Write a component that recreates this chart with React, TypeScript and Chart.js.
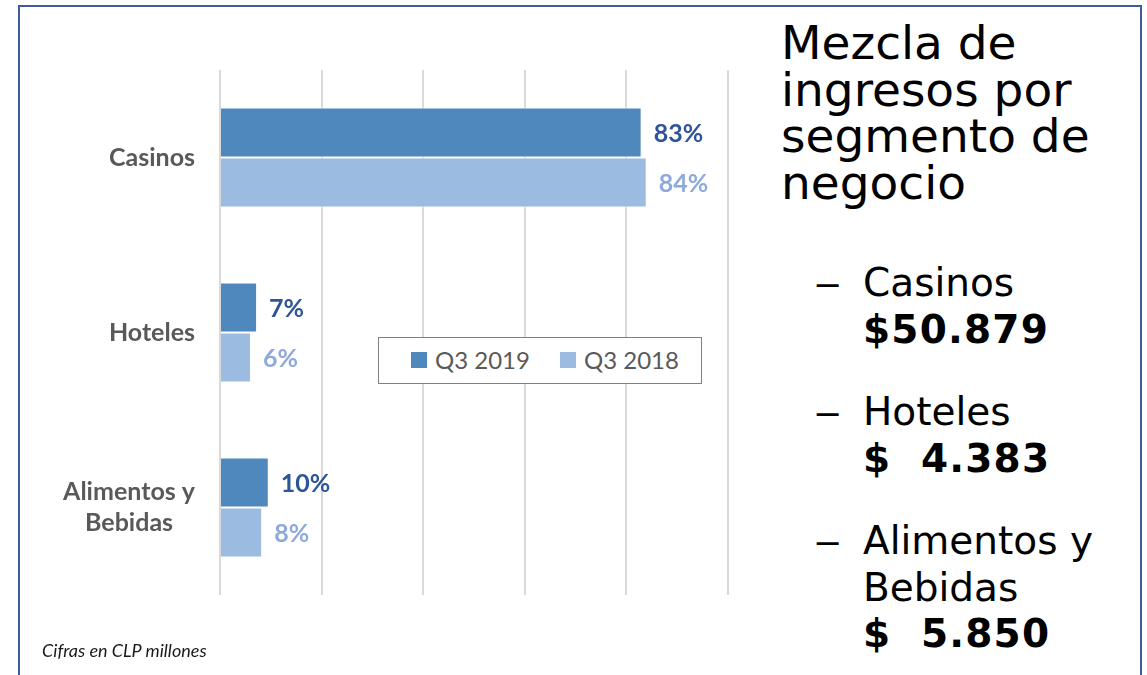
import React, { useEffect, useRef } from "react";
import { Chart, registerables } from "chart.js";

Chart.register(...registerables);

const categories: string[][] = [["Casinos"], ["Hoteles"], ["Alimentos y", "Bebidas"]];
const seriesNames = ["Q3 2019", "Q3 2018"];
const q3_2019 = [83, 7.3, 9.6];
const q3_2018 = [84, 6.1, 8.3];
const xTicks = [0, 20, 40, 60, 80, 100];
const barColors = ["#4F88BD", "#9BBBE1"];
const labelColors = ["#2E5597", "#8EAADB"];

const titleLines = ["Mezcla de", "ingresos por", "segmento de", "negocio"];
const segmentNames: string[][] = [["Casinos"], ["Hoteles"], ["Alimentos y", "Bebidas"]];
const segmentAmounts = ["$50.879", "$\u00a0\u00a04.383", "$\u00a0\u00a05.850"];
const footnote = "Cifras en CLP millones";

const LABEL_FONT = "Lato, 'Liberation Sans', sans-serif";

const valueLabelsPlugin = {
  id: "valueLabels",
  afterDatasetsDraw(chart: any) {
    const ctx = chart.ctx;
    ctx.save();
    ctx.font = `bold 25px ${LABEL_FONT}`;
    ctx.textAlign = "left";
    ctx.textBaseline = "middle";
    chart.data.datasets.forEach((ds: any, di: number) => {
      const meta = chart.getDatasetMeta(di);
      meta.data.forEach((bar: any, i: number) => {
        ctx.fillStyle = labelColors[di];
        ctx.fillText(Math.round(ds.data[i]) + "%", bar.x + 12, bar.y + 1);
      });
    });
    ctx.restore();
  },
};

const categoryLabelsPlugin = {
  id: "categoryLabels",
  afterDraw(chart: any) {
    const ctx = chart.ctx;
    const yScale = chart.scales.y;
    const right = chart.chartArea.left - 25;
    const lh = 31;
    ctx.save();
    ctx.font = `bold 25px ${LABEL_FONT}`;
    ctx.fillStyle = "#595959";
    ctx.textBaseline = "middle";
    ctx.textAlign = "center";
    categories.forEach((lines, i) => {
      const cy = yScale.getPixelForValue(i);
      const widest = Math.max(...lines.map((l) => ctx.measureText(l).width));
      const cx = right - widest / 2;
      const y0 = cy - ((lines.length - 1) * lh) / 2;
      lines.forEach((l, k) => ctx.fillText(l, cx, y0 + k * lh));
    });
    ctx.restore();
  },
};

function BarChart() {
  const ref = useRef<HTMLCanvasElement>(null);
  useEffect(() => {
    if (!ref.current) return;
    const chart = new Chart(ref.current, {
      type: "bar",
      data: {
        labels: categories.map((c) => c.join(" ")),
        datasets: [
          {
            label: seriesNames[0],
            data: q3_2019,
            backgroundColor: barColors[0],
            borderColor: "#ffffff",
            borderWidth: 1,
            categoryPercentage: 100 / 175,
            barPercentage: 1,
          },
          {
            label: seriesNames[1],
            data: q3_2018,
            backgroundColor: barColors[1],
            borderColor: "#ffffff",
            borderWidth: 1,
            categoryPercentage: 100 / 175,
            barPercentage: 1,
          },
        ],
      },
      options: {
        indexAxis: "y",
        animation: false,
        responsive: false,
        devicePixelRatio: 1,
        layout: { padding: { left: 220, right: 32, top: 70, bottom: 80 } },
        plugins: { legend: { display: false }, tooltip: { enabled: false } },
        scales: {
          x: {
            min: xTicks[0],
            max: xTicks[xTicks.length - 1],
            afterBuildTicks: (scale: any) => {
              scale.ticks = xTicks.map((v) => ({ value: v }));
            },
            ticks: { display: false },
            grid: { color: "#D9D9D9", lineWidth: 2, drawTicks: false },
            border: { display: false },
          },
          y: { display: false },
        },
      },
      plugins: [valueLabelsPlugin, categoryLabelsPlugin],
    } as any);
    return () => chart.destroy();
  }, []);
  return (
    <canvas
      ref={ref}
      width={760}
      height={675}
      style={{ position: "absolute", left: 0, top: 0, width: 760, height: 675 }}
    />
  );
}

export default function App() {
  return (
    <div
      style={{
        position: "fixed",
        left: 0,
        top: 0,
        width: 1147,
        height: 675,
        background: "#ffffff",
        overflow: "hidden",
      }}
    >
      <div
        style={{
          position: "absolute",
          left: 18,
          top: 5,
          width: 1124,
          height: 700,
          border: "2px solid #3C5B9C",
          borderBottom: "none",
          boxSizing: "border-box",
        }}
      />
      <BarChart />
      {/* legend */}
      <div
        style={{
          position: "absolute",
          left: 378,
          top: 337,
          width: 324,
          height: 47,
          border: "1.5px solid #808080",
          boxSizing: "border-box",
          background: "#ffffff",
          fontFamily: LABEL_FONT,
          fontSize: 24,
          color: "#595959",
        }}
      >
        {seriesNames.map((n, i) => (
          <div
            key={n}
            style={{
              position: "absolute",
              left: i === 0 ? 32 : 181,
              top: 0,
              height: 44,
              display: "flex",
              alignItems: "center",
            }}
          >
            <span
              style={{
                display: "inline-block",
                width: 16,
                height: 16,
                background: barColors[i],
                marginRight: 8,
              }}
            />
            <span style={{ lineHeight: "44px" }}>{n}</span>
          </div>
        ))}
      </div>
      {/* footnote */}
      <div
        style={{
          position: "absolute",
          left: 42,
          top: 640,
          fontFamily: LABEL_FONT,
          fontStyle: "italic",
          fontSize: 18,
          lineHeight: "20px",
          color: "#1a1a1a",
          whiteSpace: "nowrap",
        }}
      >
        {footnote}
      </div>
      {/* title */}
      <div
        style={{
          position: "absolute",
          left: 781,
          top: 20,
          fontFamily: "'DejaVu Sans', Verdana, sans-serif",
          fontSize: 47,
          lineHeight: "46.7px",
          color: "#000000",
          whiteSpace: "nowrap",
        }}
      >
        {titleLines.map((l) => (
          <div key={l}>{l}</div>
        ))}
      </div>
      {/* bullets */}
      <div
        style={{
          position: "absolute",
          left: 817,
          top: 260,
          fontFamily: "'DejaVu Sans', Verdana, sans-serif",
          fontSize: 39,
          lineHeight: "46.5px",
          color: "#000000",
          whiteSpace: "nowrap",
        }}
      >
        {segmentNames.map((lines, i) => (
          <div key={i} style={{ display: "flex", marginTop: i === 0 ? 0 : 36 }}>
            <div style={{ width: 46 }}>
              <span
                style={{
                  display: "inline-block",
                  transform: "translateX(-3px) scaleX(1.4)",
                  transformOrigin: "left center",
                }}
              >
                {"\u2013"}
              </span>
            </div>
            <div>
              {lines.map((l) => (
                <div key={l}>{l}</div>
              ))}
              <div style={{ fontWeight: "bold", letterSpacing: 1.2 }}>{segmentAmounts[i]}</div>
            </div>
          </div>
        ))}
      </div>
    </div>
  );
}
